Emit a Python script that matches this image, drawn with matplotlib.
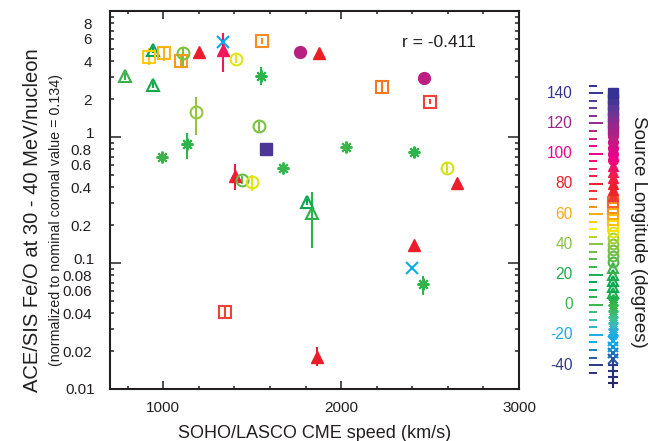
import matplotlib
matplotlib.use("Agg")
import matplotlib.pyplot as plt
import numpy as np
from matplotlib.colors import LinearSegmentedColormap, Normalize
from matplotlib.ticker import FixedLocator, FixedFormatter
from matplotlib.transforms import ScaledTranslation

plt.rcParams['font.family'] = ['Liberation Sans', 'DejaVu Sans']

# one entry per event: CME speed (km/s), Fe/O, error bar ends, source longitude (deg)
speed = [785, 942, 944, 920, 1006, 1099, 1111, 1201, 1337, 1337,
         1407, 1556, 1770, 1875, 1551, 1185, 1538, 1575, 994, 1135,
         1672, 1403, 1442, 1497, 2029, 2465, 2230, 2502, 2410, 2596,
         2654, 1809, 1837, 1347, 1862, 2408, 2399, 2459]
feo = [3.05, 4.9, 2.59, 4.34, 4.67, 4.01, 4.62, 4.7, 5.71, 4.9,
       4.14, 5.78, 4.73, 4.62, 3.05, 1.58, 1.22, 0.80, 0.69, 0.88,
       0.57, 0.49, 0.456, 0.437, 0.84, 2.96, 2.48, 1.91, 0.76, 0.57,
       0.434, 0.307, 0.248, 0.041, 0.018, 0.139, 0.091, 0.068]
feo_lo = [2.85, 4.6, 2.45, 3.7, 4.0, 3.6, 3.6, 4.7, 5.3, 3.28,
          3.85, 5.5, 4.73, 4.62, 2.58, 1.04, 1.12, 0.80, 0.69, 0.665,
          0.57, 0.38, 0.42, 0.37, 0.84, 2.96, 2.25, 1.82, 0.76, 0.52,
          0.434, 0.29, 0.131, 0.037, 0.0152, 0.139, 0.091, 0.056]
feo_hi = [3.25, 5.2, 2.75, 5.1, 5.3, 4.5, 5.1, 4.7, 6.7, 6.69,
          4.45, 6.1, 4.73, 4.62, 3.62, 2.09, 1.32, 0.80, 0.69, 1.08,
          0.57, 0.61, 0.49, 0.50, 0.84, 2.96, 2.75, 2.0, 0.76, 0.63,
          0.434, 0.325, 0.368, 0.045, 0.0217, 0.139, 0.091, 0.079]
lon = [24, 15, 18, 55, 58, 63, 38, 80, -25, 90,
       48, 65, 113, 78, 3, 42, 38, 135, 0, 2,
       0, 82, 33, 48, 0, 112, 66, 71, 3, 47,
       80, 14, 22, 71, 80, 80, -22, 2]

r_text = "r = -0.411"

# longitude colour scale
cmap_lon = [-55, -40, -32, -25, -18, -10, 0, 15, 25, 35, 42, 50, 57, 64, 71, 78, 88, 100, 112, 122, 132, 142]
cmap_col = ['#262262', '#2b3990', '#1c75bc', '#00aeef', '#27aae1', '#40bfa8', '#39b54a', '#00a651',
            '#3fb549', '#6fbe44', '#8dc63f', '#fff200', '#fdb913', '#f7941d', '#ef4136', '#ed1c24',
            '#ee1d4f', '#ec008c', '#bf1e80', '#92278f', '#5b3a96', '#2e3192']
norm = Normalize(-55, 142)
cmap = LinearSegmentedColormap.from_list(
    'lon', [(norm(l), c) for l, c in zip(cmap_lon, cmap_col)])


def style_for(l):
    # marker, filled?
    if l >= 115:
        return 's', True
    if l >= 95:
        return 'o', True
    if l >= 72:
        return '^', True
    if l >= 50:
        return 's', False
    if l >= 25:
        return 'o', False
    if l >= 5:
        return '^', False
    if l >= -20:
        return (8, 2, 0), False
    if l >= -38:
        return 'x', False
    return '+', False


def draw_marker(ax, x, y, l, size):
    m, filled = style_for(l)
    c = cmap(norm(l))
    if filled:
        ax.plot(x, y, marker=m, ms=size, color=c, mec=c, ls='none', clip_on=False)
    else:
        ax.plot(x, y, marker=m, ms=size, mfc='none', mec=c, mew=1.5, ls='none', clip_on=False)


fig = plt.figure(figsize=(6.49, 4.41), dpi=100)
ax = fig.add_axes([110 / 649, 52 / 441, 409 / 649, 378 / 441])

cols = [cmap(norm(l)) for l in lon]
ax.vlines(speed, feo_lo, feo_hi, colors=cols, lw=1.5)
for x, y, l in zip(speed, feo, lon):
    draw_marker(ax, x, y, l, 8.5)

ax.set_yscale('log')
ax.set_xlim(700, 3000)
ax.set_ylim(0.01, 10)

ax.set_xticks([1000, 2000, 3000])
ax.set_xticks(np.arange(800, 3000, 200), minor=True)
ax.yaxis.set_major_locator(FixedLocator([0.01, 0.1, 1, 10]))
ax.yaxis.set_major_formatter(FixedFormatter(['0.01', '0.1', '1', '']))
minor_y = [m * d for d in (0.01, 0.1, 1) for m in range(2, 10)]
minor_lab = []
for v in minor_y:
    m = round(v / 10 ** np.floor(np.log10(v) + 1e-9))
    minor_lab.append(('%g' % v) if m % 2 == 0 else '')
ax.yaxis.set_minor_locator(FixedLocator(minor_y))
ax.yaxis.set_minor_formatter(FixedFormatter(minor_lab))

ax.tick_params(which='both', direction='in', top=True, right=True, color='#231f20',
               labelcolor='#231f20', labelsize=11, width=1.1)
ax.tick_params(axis='x', which='major', length=5.5, pad=9)
ax.tick_params(axis='x', which='minor', length=2.5)
ax.tick_params(axis='y', which='major', length=8, pad=11)
ax.tick_params(axis='y', which='minor', length=3, pad=13)
# labels of 1 and 0.1 sit a little higher, as in the original
for lab in ax.yaxis.get_majorticklabels()[1:3]:
    lab.set_transform(lab.get_transform() + ScaledTranslation(0, 5 / 100, fig.dpi_scale_trans))
for s in ax.spines.values():
    s.set_linewidth(1.5)
    s.set_color('#231f20')

ax.set_xlabel('SOHO/LASCO CME speed (km/s)', fontsize=13, color='#231f20', labelpad=7)
fig.text(33 / 649, 0.5, 'ACE/SIS Fe/O at 30 - 40 MeV/nucleon', rotation=90,
         ha='center', va='center', fontsize=14.5, color='#231f20')
fig.text(56 / 649, 0.5, '(normalized to nominal coronal value = 0.134)', rotation=90,
         ha='center', va='center', fontsize=10.3, color='#231f20')
ax.text(2340, 5.6, r_text, fontsize=12.5, ha='left', va='center', color='#231f20')

# longitude key on the right
ax2 = fig.add_axes([575 / 649, 41 / 441, 50 / 649, 320 / 441])
ax2.set_xlim(0, 50)
ax2.set_ylim(-63.1, 148.8)
ax2.axis('off')
tick_lon = np.arange(-45, 146, 5)
for t in tick_lon:
    c = cmap(norm(t))
    ax2.plot([14, 28 if t % 20 == 0 else 22], [t, t], color=c, lw=1.4, solid_capstyle='butt')
    if t % 20 == 0:
        ax2.text(-2, t, '%d' % t, color=c, ha='right', va='center', fontsize=11.2)
key_lon = np.arange(-52, 143, 4)
for l in key_lon:
    draw_marker(ax2, 38, l, l, 7)
fig.text(638 / 649, 1 - 232 / 441, 'Source Longitude (degrees)', rotation=-90,
         ha='center', va='center', fontsize=13.5, color='#231f20')

fig.savefig('out.png', dpi=100)
